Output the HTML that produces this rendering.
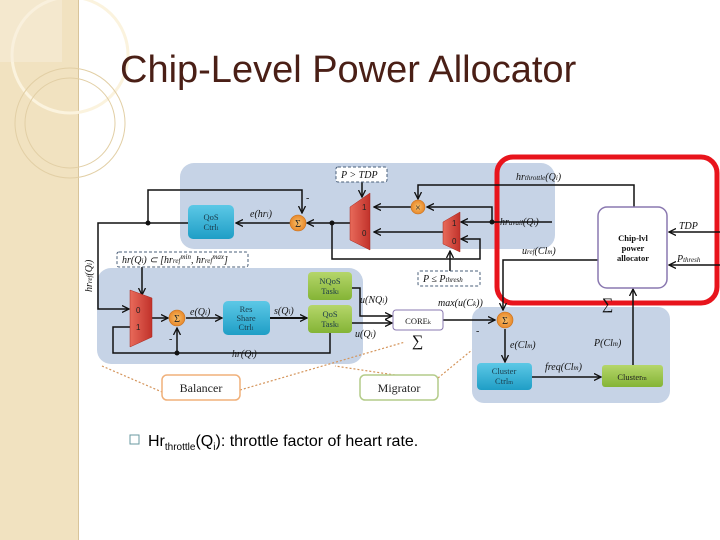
<!DOCTYPE html>
<html><head><meta charset="utf-8"><style>
html,body{margin:0;padding:0;background:#fff;}
body{width:720px;height:540px;position:relative;overflow:hidden;font-family:"Liberation Sans",sans-serif;}
</style></head><body>
<svg width="720" height="540" viewBox="0 0 720 540" xmlns="http://www.w3.org/2000/svg" style="position:absolute;left:0;top:0">
<defs>
<marker id="a" markerWidth="8" markerHeight="8" refX="7" refY="4" orient="auto" markerUnits="userSpaceOnUse"><path d="M0,0.5 L7,4 L0,7.5" fill="none" stroke="#111" stroke-width="1.3"/></marker>
<linearGradient id="cy" x1="0" y1="0" x2="0" y2="1"><stop offset="0" stop-color="#5cc8e6"/><stop offset="1" stop-color="#1f9ec6"/></linearGradient>
<linearGradient id="gr" x1="0" y1="0" x2="0" y2="1"><stop offset="0" stop-color="#b5d66a"/><stop offset="1" stop-color="#84b436"/></linearGradient>
<linearGradient id="rd" x1="0" y1="0" x2="1" y2="0"><stop offset="0" stop-color="#e86a5a"/><stop offset="1" stop-color="#c1322b"/></linearGradient>
<radialGradient id="or"><stop offset="0" stop-color="#f8bf6a"/><stop offset="1" stop-color="#e8882a"/></radialGradient>
</defs>
<!-- left decorative strip -->
<rect x="0" y="0" width="78" height="540" fill="#f1e2c0"/>
<line x1="78.5" y1="0" x2="78.5" y2="540" stroke="#d8c49a"/>
<circle cx="70" cy="55" r="58" fill="none" stroke="#fbf3de" stroke-width="3"/>
<circle cx="70" cy="123" r="55" fill="none" stroke="#e2cfa5" stroke-width="1"/>
<circle cx="70" cy="123" r="45" fill="none" stroke="#e2cfa5" stroke-width="1"/>
<rect x="0" y="0" width="62" height="62" fill="#f7eedb" opacity="0.5"/>
<!-- title -->
<text x="120" y="82" font-size="38" fill="#4a1f16" font-family="Liberation Sans, sans-serif">Chip-Level Power Allocator</text>

<!-- blue regions -->
<rect x="180" y="163" width="375" height="86" rx="14" fill="#c6d3e6"/>
<rect x="97" y="268" width="266" height="96" rx="14" fill="#c6d3e6"/>
<rect x="472" y="307" width="198" height="96" rx="12" fill="#c6d3e6"/>

<!-- dotted orange connectors -->
<g stroke="#d4945a" stroke-width="1.2" stroke-dasharray="2,2" fill="none">
<line x1="102" y1="366" x2="162" y2="392"/>
<line x1="240" y1="390" x2="405" y2="342"/>
<line x1="395" y1="375" x2="335" y2="366"/>
<line x1="438" y1="378" x2="472" y2="350"/>
</g>

<!-- red highlight -->
<rect x="497" y="157" width="220" height="146" rx="16" fill="none" stroke="#e8141c" stroke-width="5"/>

<g stroke="#111" stroke-width="1.5" fill="none">
<!-- top loop -->
<polyline points="148,223 148,190 302,190 302,213" marker-end="url(#a)"/>
<line x1="290" y1="223" x2="236" y2="223" marker-end="url(#a)"/>
<line x1="350" y1="223" x2="307" y2="223" marker-end="url(#a)"/>
<polyline points="332,223 332,259 480,259 480,239 461,239" marker-end="url(#a)"/>
<!-- left line to lower mux -->
<polyline points="148,223 98,223 98,309 129,309" marker-end="url(#a)"/>
<line x1="188" y1="223" x2="148" y2="223"/>
<!-- dashed boxes arrows -->
<line x1="362" y1="182" x2="362" y2="197" marker-end="url(#a)"/>
<line x1="182" y1="267" x2="182" y2="0" stroke="none"/>
<line x1="142" y1="267" x2="142" y2="295" marker-end="url(#a)"/>
<line x1="450" y1="272" x2="450" y2="251" marker-end="url(#a)"/>
<!-- throttle -->
<polyline points="634,207 634,185 418,185 418,199" marker-end="url(#a)"/>
<line x1="411" y1="207" x2="374" y2="207" marker-end="url(#a)"/>
<polyline points="552,222 492,222 492,207 427,207" marker-end="url(#a)"/>
<line x1="492" y1="222" x2="461" y2="222" marker-end="url(#a)"/>
<line x1="443" y1="232" x2="374" y2="232" marker-end="url(#a)"/>
<!-- lower loop -->
<line x1="152" y1="318" x2="168" y2="318" marker-end="url(#a)"/>
<line x1="186" y1="318" x2="222" y2="318" marker-end="url(#a)"/>
<line x1="270" y1="318" x2="307" y2="318" marker-end="url(#a)" stroke-width="2"/>
<polyline points="130,327 113,327 113,353 330,353 330,333"/>
<line x1="177" y1="353" x2="177" y2="328" marker-end="url(#a)"/>
<polyline points="352,288 360,288 360,316 392,316" marker-end="url(#a)"/>
<line x1="352" y1="323" x2="392" y2="323" marker-end="url(#a)"/>
<line x1="443" y1="320" x2="495" y2="320" marker-end="url(#a)"/>
<!-- right -->
<polyline points="598,260 503,260 503,310" marker-end="url(#a)"/>
<line x1="720" y1="232" x2="669" y2="232" marker-end="url(#a)"/>
<line x1="720" y1="265" x2="669" y2="265" marker-end="url(#a)"/>
<line x1="505" y1="329" x2="505" y2="362" marker-end="url(#a)"/>
<line x1="532" y1="377" x2="601" y2="377" marker-end="url(#a)"/>
<line x1="633" y1="365" x2="633" y2="289" marker-end="url(#a)"/>
</g>
<circle cx="148" cy="223" r="2.5" fill="#111"/>
<circle cx="332" cy="223" r="2.5" fill="#111"/>
<circle cx="492" cy="222" r="2.5" fill="#111"/>
<circle cx="177" cy="353" r="2.5" fill="#111"/>

<!-- dashed labels -->
<g fill="#fff" stroke="#4a5f7a" stroke-dasharray="3,2" stroke-width="1">
<rect x="336" y="167" width="51" height="15" rx="2"/>
<rect x="117" y="252" width="131" height="15" rx="2"/>
<rect x="418" y="271" width="62" height="15" rx="2"/>
</g>
<g font-family="Liberation Serif, serif" font-style="italic" font-size="10" fill="#111">
<text x="341" y="178">P &gt; TDP</text>
<text x="122" y="263">hr(Q<tspan font-size="7">i</tspan>) ⊂ [hr<tspan font-size="7">ref</tspan><tspan font-size="7" dy="-4">min</tspan><tspan dy="4">, hr</tspan><tspan font-size="7">ref</tspan><tspan font-size="7" dy="-4">max</tspan><tspan dy="4">]</tspan></text>
<text x="423" y="282">P ≤ P<tspan font-size="7">thresh</tspan></text>
<text x="250" y="217">e(hr<tspan font-size="7">i</tspan>)</text>
<text x="190" y="315">e(Q<tspan font-size="7">i</tspan>)</text>
<text x="274" y="314">s(Q<tspan font-size="7">i</tspan>)</text>
<text x="232" y="357">hr(Q<tspan font-size="7">i</tspan>)</text>
<text x="360" y="303">u(NQ<tspan font-size="7">i</tspan>)</text>
<text x="355" y="337">u(Q<tspan font-size="7">i</tspan>)</text>
<text x="438" y="306">max(u(C<tspan font-size="7">k</tspan>))</text>
<text x="516" y="180">hr<tspan font-size="7">throttle</tspan>(Q<tspan font-size="7">i</tspan>)</text>
<text x="500" y="225">hr<tspan font-size="7">avail</tspan>(Q<tspan font-size="7">i</tspan>)</text>
<text x="522" y="254">u<tspan font-size="7">ref</tspan>(Cl<tspan font-size="7">m</tspan>)</text>
<text x="679" y="229">TDP</text>
<text x="677" y="262">P<tspan font-size="7">thresh</tspan></text>
<text x="510" y="348">e(Cl<tspan font-size="7">m</tspan>)</text>
<text x="545" y="370">freq(Cl<tspan font-size="7">m</tspan>)</text>
<text x="594" y="346">P(Cl<tspan font-size="7">m</tspan>)</text>
<text x="0" y="0" transform="translate(92,292) rotate(-90)">hr<tspan font-size="7">ref</tspan>(Q<tspan font-size="7">i</tspan>)</text>
<text x="306" y="201" font-style="normal">-</text>
<text x="169" y="342" font-style="normal">-</text>
<text x="476" y="334" font-style="normal">-</text>
</g>
<text x="412" y="346" font-family="Liberation Serif, serif" font-size="16" fill="#111">∑</text>
<text x="602" y="309" font-family="Liberation Serif, serif" font-size="16" fill="#111">∑</text>

<!-- mux -->
<polygon points="350,207 370,193 370,250 350,240" fill="url(#rd)" stroke="#a8291f" stroke-width="0.5"/>
<polygon points="443,222 460,212 460,252 443,244" fill="url(#rd)" stroke="#a8291f" stroke-width="0.5"/>
<polygon points="130,290 152,298 152,337 130,347" fill="url(#rd)" stroke="#a8291f" stroke-width="0.5"/>
<g font-family="Liberation Sans, sans-serif" font-size="8" fill="#222">
<text x="362" y="210">1</text><text x="362" y="236">0</text>
<text x="452" y="226">1</text><text x="452" y="244">0</text>
<text x="136" y="313">0</text><text x="136" y="330">1</text>
</g>

<!-- sums -->
<g font-family="Liberation Serif, serif" font-size="10" text-anchor="middle" fill="#222">
<circle cx="298" cy="223" r="8" fill="url(#or)" stroke="#c7701c" stroke-width="0.6"/><text x="298" y="227">Σ</text>
<circle cx="177" cy="318" r="8" fill="url(#or)" stroke="#c7701c" stroke-width="0.6"/><text x="177" y="322">Σ</text>
<circle cx="505" cy="320" r="8" fill="url(#or)" stroke="#c7701c" stroke-width="0.6"/><text x="505" y="324">Σ</text>
<circle cx="418" cy="207" r="7" fill="url(#or)" stroke="#c7701c" stroke-width="0.6"/><text x="418" y="211">×</text>
</g>

<!-- boxes -->
<g font-family="Liberation Serif, serif" font-size="8.5" text-anchor="middle" fill="#1b3a4a">
<rect x="188" y="205" width="46" height="34" rx="5" fill="url(#cy)"/>
<text x="211" y="220">QoS</text><text x="211" y="230">Ctrl<tspan font-size="6">i</tspan></text>
<rect x="223" y="301" width="47" height="34" rx="5" fill="url(#cy)"/>
<text x="246" y="312">Res</text><text x="246" y="321">Share</text><text x="246" y="330">Ctrl<tspan font-size="6">i</tspan></text>
<rect x="308" y="272" width="44" height="28" rx="4" fill="url(#gr)"/>
<text x="330" y="284">NQoS</text><text x="330" y="294">Task<tspan font-size="6">i</tspan></text>
<rect x="308" y="305" width="44" height="28" rx="4" fill="url(#gr)"/>
<text x="330" y="317">QoS</text><text x="330" y="327">Task<tspan font-size="6">i</tspan></text>
<rect x="477" y="363" width="55" height="27" rx="4" fill="url(#cy)"/>
<text x="504" y="374">Cluster</text><text x="504" y="384">Ctrl<tspan font-size="6">m</tspan></text>
<rect x="602" y="365" width="61" height="22" rx="3" fill="url(#gr)"/>
<text x="632" y="380" fill="#222">Cluster<tspan font-size="6">m</tspan></text>
<rect x="393" y="310" width="50" height="20" rx="3" fill="#fff" stroke="#8a78b0"/>
<text x="418" y="324" fill="#111">CORE<tspan font-size="6">k</tspan></text>
<rect x="598" y="207" width="69" height="81" rx="9" fill="#fff" stroke="#8a78b0" stroke-width="1.5"/>
<text x="633" y="241" fill="#111" font-weight="bold">Chip-lvl</text>
<text x="633" y="251" fill="#111" font-weight="bold">power</text>
<text x="633" y="261" fill="#111" font-weight="bold">allocator</text>
</g>
<g font-family="Liberation Serif, serif" font-size="12" text-anchor="middle" fill="#222">
<rect x="162" y="375" width="78" height="25" rx="5" fill="#fff" stroke="#f0b07a" stroke-width="1.5"/>
<text x="201" y="392">Balancer</text>
<rect x="360" y="375" width="78" height="25" rx="5" fill="#fff" stroke="#b4cc8a" stroke-width="1.5"/>
<text x="399" y="392">Migrator</text>
</g>

<!-- bullet -->
<rect x="130" y="435" width="9" height="9" fill="none" stroke="#6a9aa0" stroke-width="1"/>
<text x="148" y="446" font-family="Liberation Sans, sans-serif" font-size="16" fill="#000">Hr<tspan font-size="10" dy="4">throttle</tspan><tspan dy="-4">(Q</tspan><tspan font-size="10" dy="4">i</tspan><tspan dy="-4">): throttle factor of heart rate.</tspan></text>
</svg>
</body></html>
